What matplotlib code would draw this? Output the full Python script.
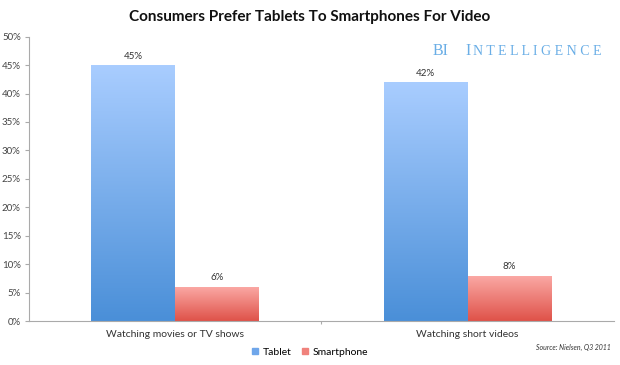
import numpy as np
import matplotlib
matplotlib.use("Agg")
import matplotlib.pyplot as plt
from matplotlib.colors import LinearSegmentedColormap
from matplotlib.patches import Patch

plt.rcParams['font.family'] = ['Lato', 'DejaVu Sans']

# data
categories = ["Watching movies or TV shows", "Watching short videos"]
tablet = [0.45, 0.42]
smartphone = [0.06, 0.08]
series_names = ["Tablet", "Smartphone"]
yticks = np.arange(0, 0.51, 0.05)

fig = plt.figure(figsize=(6.2, 3.65), dpi=100)
ax = fig.add_axes([0.047, 0.1205, 0.943, 0.779])

x = np.arange(len(categories))
w = 0.287
bars_t = ax.bar(x - w / 2, tablet, w, color="#7fb2f0", edgecolor="none")
bars_s = ax.bar(x + w / 2, smartphone, w, color="#f08c86", edgecolor="none")

# vertical gradient fills, clipped to each bar
blue_cmap = LinearSegmentedColormap.from_list("b", ["#4a8fd8", "#a9cdff"])
red_cmap = LinearSegmentedColormap.from_list("r", ["#df5249", "#fbaaa6"])
grad = np.linspace(0, 1, 256).reshape(-1, 1)
for bars, cmap in [(bars_t, blue_cmap), (bars_s, red_cmap)]:
    for b in bars:
        x0, y0 = b.get_x(), b.get_y()
        im = ax.imshow(grad, cmap=cmap, origin="lower", aspect="auto",
                       extent=[x0, x0 + b.get_width(), y0, y0 + b.get_height()],
                       zorder=2)
        im.set_clip_path(b)

for bars, vals in [(bars_t, tablet), (bars_s, smartphone)]:
    for b, v in zip(bars, vals):
        ax.text(b.get_x() + b.get_width() / 2, v + 0.008, f"{v*100:.0f}%",
                ha="center", va="bottom", fontsize=7, color="#333333")

ax.set_xlim(-0.5, 1.5)
ax.set_ylim(0, 0.5)
ax.set_yticks(yticks)
ax.set_yticklabels([f"{t*100:.0f}%" for t in yticks], fontsize=7, color="#444444")
ax.set_xticks([0.5])
ax.set_xticklabels([""])
for i, c in enumerate(categories):
    ax.text(i, -0.016, c, ha="center", va="top", fontsize=7.5, color="#333333")

for s in ["top", "right"]:
    ax.spines[s].set_visible(False)
for s in ["left", "bottom"]:
    ax.spines[s].set_color("#aaaaaa")
    ax.spines[s].set_linewidth(0.8)
ax.tick_params(axis="y", length=3, color="#aaaaaa", pad=3)
ax.tick_params(axis="x", length=2, color="#aaaaaa", direction="out")

fig.text(0.5, 0.953, "Consumers Prefer Tablets To Smartphones For Video",
         ha="center", va="center", fontsize=11, fontweight="bold", color="#111111")

# legend
handles = [Patch(color="#6fa6ea"), Patch(color="#f0827c")]
fig.legend(handles, series_names, loc="center", bbox_to_anchor=(0.5, 0.035),
           ncol=2, frameon=False, fontsize=7.5, handlelength=0.6, handleheight=0.6,
           columnspacing=1.0, handletextpad=0.4)

# logo
logo_color = "#6aaee6"
base_y = 0.8485
fig.text(433 / 620, base_y, "BI", ha="left", va="baseline", fontsize=11.5,
         family="Liberation Serif", color=logo_color)
fig.text(465 / 620, base_y, "I", ha="left", va="baseline", fontsize=11.5,
         family="Liberation Serif", color=logo_color)
fig.text(473 / 620, base_y, "N T E L L I G E N C E", ha="left", va="baseline",
         fontsize=10, family="Liberation Serif", color=logo_color)

fig.text(0.985, 0.047, "Source: Nielsen, Q3 2011", ha="right", va="center",
         fontsize=5, style="italic", color="#333333")

fig.savefig("out.png", dpi=100)
